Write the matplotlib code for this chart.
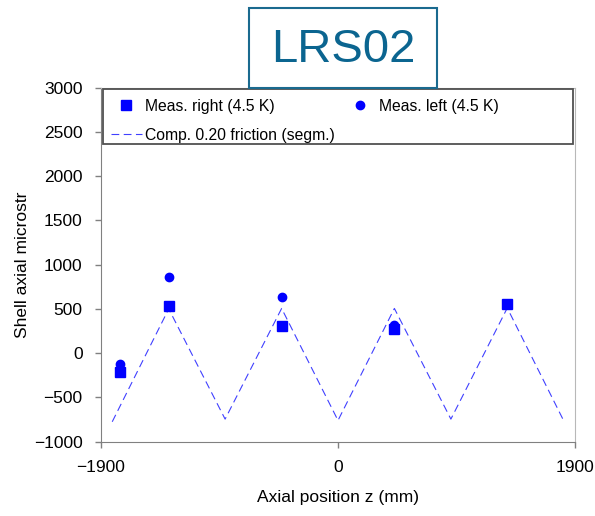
import matplotlib
matplotlib.use("Agg")
import matplotlib.pyplot as plt
from matplotlib.patches import Rectangle

plt.rcParams['font.family'] = ['Liberation Sans', 'DejaVu Sans']

# measured strain, right side (4.5 K)
z_right = [-1750, -1357, -450, 446, 1355]
eps_right = [-215, 530, 310, 278, 555]

# measured strain, left side (4.5 K)
z_left = [-1750, -1357, -450, 446]
eps_left = [-125, 860, 638, 315]

# computed strain with 0.20 friction (segmented)
z_comp = [-1810, -1357, -905, -452, 0, 452, 905, 1357, 1810]
eps_comp = [-775, 500, -745, 505, -760, 505, -745, 510, -765]

blue = '#0000ff'

fig = plt.figure(figsize=(5.95, 5.16), dpi=100)
ax = fig.add_axes([101 / 595, 1 - 441.7 / 516, 474 / 595, 354.2 / 516])

ax.plot(z_comp, eps_comp, color='#4040ff', lw=0.8, dashes=(7, 4),
        label='Comp. 0.20 friction (segm.)')
ax.plot(z_right, eps_right, 's', color=blue, ms=6.5, label='Meas. right (4.5 K)')
ax.plot(z_left, eps_left, 'o', color=blue, ms=6, label='Meas. left (4.5 K)')

ax.set_xlim(-1900, 1900)
ax.set_ylim(-1000, 3000)
ax.set_xticks([-1900, 0, 1900])
ax.set_yticks(range(-1000, 3001, 500))

for s in ['left', 'bottom']:
    ax.spines[s].set_color('#808080')
for s in ['top', 'right']:
    ax.spines[s].set_color('#b8b8b8')
ax.tick_params(axis='both', direction='out', length=4.3, width=1, color='#808080',
               labelsize=12.5)
ax.tick_params(axis='y', pad=9)
ax.tick_params(axis='x', pad=9)

ax.set_xlabel('Axial position z (mm)', fontsize=12.5, labelpad=11)
ax.set_ylabel('Shell axial microstr', fontsize=12.5, labelpad=3)

# legend frame drawn separately so it spans the plot width
ax.add_patch(Rectangle((0.004, 0.840), 0.992, 0.155, transform=ax.transAxes,
                       fill=False, edgecolor='#505050', lw=1.3, zorder=5))
h, l = ax.get_legend_handles_labels()
order = [1, 0, 2]
ax.legend([h[i] for i in order], [l[i] for i in order], ncol=2, frameon=False,
          loc='upper left', bbox_to_anchor=(5 / 474, 0.982), borderaxespad=0,
          borderpad=0.3, fontsize=11.3, handlelength=2, handletextpad=0.2,
          columnspacing=0.6, labelspacing=0.9)

# title box
fig.patches.append(Rectangle((249 / 595, 1 - 88 / 516), 188 / 595, 80 / 516,
                             transform=fig.transFigure, fill=False,
                             edgecolor='#1a6a8f', lw=1.5))
fig.text(343 / 595, 1 - 50 / 516, 'LRS02', fontsize=34, color='#0b6590',
         ha='center', va='center')

fig.savefig('out.png', dpi=100)
